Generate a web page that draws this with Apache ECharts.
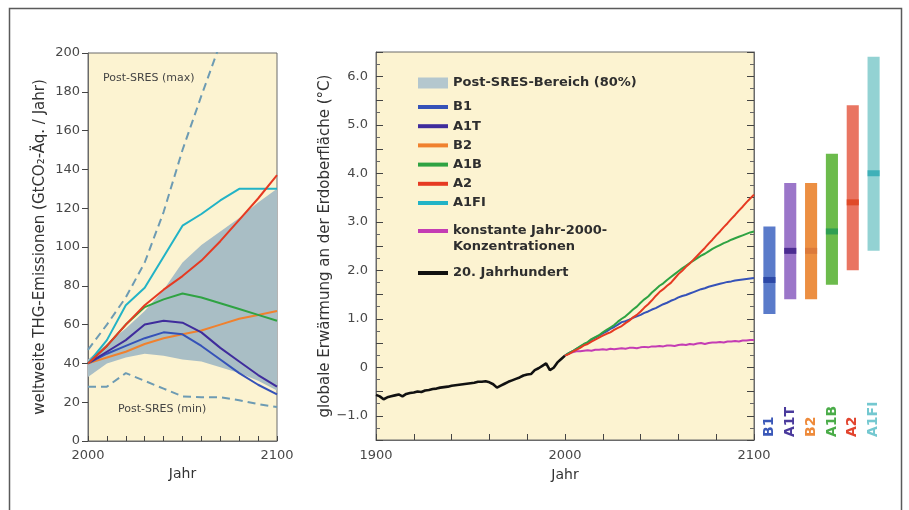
<!DOCTYPE html>
<html><head><meta charset="utf-8">
<script src="https://cdn.jsdelivr.net/npm/echarts@6/dist/echarts.min.js"></script>
<style>html,body{margin:0;padding:0;background:#fff}#c{width:909px;height:510px}</style>
</head><body><div id="c"></div>
<script>
// ---------- Left panel: emissions (GtCO2-eq / year) ----------
const emYears   = [2000, 2010, 2020, 2030, 2040, 2050, 2060, 2070, 2080, 2090, 2100];
const emB1      = [40, 45, 49, 53, 56, 55, 49, 42, 35, 29, 24];
const emA1T     = [40, 46, 52, 60, 62, 61, 56, 48, 41, 34, 28];
const emB2      = [40, 43, 46, 50, 53, 55, 57, 60, 63, 65, 67];
const emA1B     = [40, 49, 60, 69, 73, 76, 74, 71, 68, 65, 62];
const emA2      = [40, 49, 60, 70, 78, 85, 93, 103, 114, 125, 137];
const emA1FI    = [40, 52, 70, 79, 95, 111, 117, 124, 130, 130, 130];
const emMaxYears = [2000, 2010, 2020, 2030, 2040, 2050, 2060, 2070];
const emMax     = [47, 60, 74, 92, 118, 150, 178, 205];
const emMin     = [28, 28, 35, 31, 27, 23, 22.5, 22.5, 21, 19, 17.5];
const bandLow   = [33, 40, 43, 45, 44, 42, 41, 38, 35, 31, 26];
const bandHigh  = [42, 50, 58, 67, 78, 92, 101, 108, 115, 123, 130];

// ---------- Middle panel: warming (°C) ----------
const histYears = [1900,1902,1904,1906,1908,1910,1912,1914,1916,1918,1920,1922,1924,1926,1928,1930,1932,1934,1936,1938,1940,1942,1944,1946,1948,1950,1952,1954,1956,1958,1960,1962,1964,1966,1968,1970,1972,1974,1976,1978,1980,1982,1984,1986,1988,1990,1992,1994,1996,1998,2000];
const hist20    = [-0.57,-0.60,-0.66,-0.62,-0.60,-0.58,-0.56,-0.60,-0.55,-0.53,-0.52,-0.50,-0.51,-0.48,-0.47,-0.45,-0.44,-0.42,-0.41,-0.40,-0.38,-0.37,-0.36,-0.35,-0.34,-0.33,-0.32,-0.30,-0.30,-0.29,-0.31,-0.35,-0.42,-0.38,-0.34,-0.30,-0.27,-0.24,-0.21,-0.17,-0.15,-0.14,-0.06,-0.02,0.03,0.08,-0.06,-0.01,0.10,0.17,0.24];
const scenYears = [2000,2002,2004,2006,2008,2010,2012,2014,2016,2018,2020,2022,2024,2026,2028,2030,2032,2034,2036,2038,2040,2042,2044,2046,2048,2050,2052,2054,2056,2058,2060,2062,2064,2066,2068,2070,2072,2074,2076,2078,2080,2082,2084,2086,2088,2090,2092,2094,2096,2098,2100];
const tB1   = [0.24,0.29,0.33,0.38,0.42,0.47,0.51,0.57,0.61,0.65,0.70,0.74,0.79,0.83,0.88,0.93,0.95,0.98,1.02,1.05,1.08,1.12,1.15,1.19,1.22,1.26,1.30,1.33,1.37,1.40,1.44,1.47,1.49,1.52,1.55,1.58,1.61,1.63,1.66,1.68,1.70,1.72,1.74,1.76,1.77,1.79,1.80,1.81,1.82,1.83,1.84];
const tA1B  = [0.24,0.29,0.33,0.38,0.43,0.48,0.52,0.58,0.62,0.66,0.72,0.77,0.82,0.87,0.94,1.00,1.05,1.12,1.19,1.25,1.33,1.40,1.46,1.54,1.61,1.68,1.73,1.80,1.86,1.92,1.98,2.04,2.09,2.15,2.20,2.25,2.30,2.34,2.39,2.44,2.48,2.52,2.56,2.59,2.63,2.66,2.69,2.72,2.75,2.78,2.80];
const tA2   = [0.24,0.27,0.32,0.36,0.40,0.45,0.48,0.53,0.57,0.61,0.65,0.69,0.72,0.77,0.81,0.85,0.91,0.96,1.03,1.08,1.15,1.23,1.30,1.38,1.47,1.55,1.61,1.68,1.74,1.83,1.92,1.99,2.07,2.14,2.22,2.30,2.38,2.46,2.55,2.63,2.72,2.80,2.89,2.97,3.06,3.14,3.23,3.31,3.40,3.48,3.56];
const tCommit = [0.24,0.28,0.31,0.33,0.33,0.34,0.35,0.34,0.36,0.36,0.37,0.36,0.38,0.37,0.38,0.39,0.38,0.40,0.40,0.39,0.41,0.42,0.41,0.43,0.43,0.44,0.43,0.45,0.45,0.44,0.46,0.47,0.46,0.48,0.47,0.49,0.50,0.48,0.50,0.51,0.51,0.52,0.51,0.53,0.53,0.54,0.53,0.55,0.55,0.56,0.56];

// ---------- Right: likely ranges ----------
const barScen = ['B1', 'A1T', 'B2', 'A1B', 'A2', 'A1FI'];
const barLow  = [1.1, 1.4, 1.4, 1.7, 2.0, 2.4];
const barHigh = [2.9, 3.8, 3.8, 4.4, 5.4, 6.4];
const barBest = [1.8, 2.4, 2.4, 2.8, 3.4, 4.0];

// ---------- styles ----------
const C = {B1:'#3552b8', A1T:'#3f2c9c', B2:'#f0812e', A1B:'#2fa343', A2:'#e63a22', A1FI:'#22b3c6', commit:'#c43cb4', hist:'#111111', band:'#a9bec5', dash:'#6d9bb3'};
const barFill = ['#5a7bca','#9b76c9','#ec8f42','#6cbb4c','#e97562','#93d2d3'];
const barMid  = ['#2c48a6','#4a2b90','#dc7a3a','#2f9f52','#e04a28','#3fb0b8'];
const labCol  = ['#3a58b8','#4a3a9c','#ee8a3a','#4aac48','#e2442e','#74c8d0'];
const FONT = 'DejaVu Sans, Verdana, sans-serif';
const cream = '#fcf3d1';

const pair = (xs, ys) => ys.map((y, i) => [xs[i], y]);

const lineS = (name, xi, yi, xs, ys, color, extra) => Object.assign({
  type: 'line', name, xAxisIndex: xi, yAxisIndex: yi, data: pair(xs, ys),
  symbol: 'none', lineStyle: {color, width: 2}, itemStyle: {color}, z: 3
}, extra || {});

const chart = echarts.init(document.getElementById('c'));
const axText = {color: '#484848', fontSize: 13, fontFamily: FONT};
const nameText = {color: '#333', fontSize: 14, fontFamily: FONT};
const yNameText = {color: '#333', fontSize: 15, fontFamily: FONT};
const legText = {color: '#2e2e2e', fontSize: 13, fontFamily: FONT, fontWeight: 'bold', lineHeight: 16};

chart.setOption({
  animation: false,
  backgroundColor: '#fff',
  textStyle: {fontFamily: FONT},
  grid: [
    {left: 88, top: 53, width: 189, height: 388, show: true, backgroundColor: cream, borderColor: '#6a6a6a', borderWidth: 1},
    {left: 376, top: 52, width: 378, height: 388, show: true, backgroundColor: cream, borderColor: '#6a6a6a', borderWidth: 1},
    {left: 759, top: 52, width: 125, height: 388, show: false}
  ],
  xAxis: [
    {type: 'value', gridIndex: 0, min: 2000, max: 2100, interval: 10,
     axisLine: {onZero: false, lineStyle: {color: '#6a6a6a'}}, splitLine: {show: false},
     axisTick: {inside: true, length: 5, lineStyle: {color: '#444'}},
     axisLabel: Object.assign({margin: 8, formatter: v => (v === 2000 || v === 2100) ? String(v) : ''}, axText),
     name: 'Jahr', nameLocation: 'middle', nameGap: 26, nameTextStyle: nameText},
    {type: 'value', gridIndex: 1, min: 1900, max: 2100, interval: 20,
     axisLine: {onZero: false, lineStyle: {color: '#6a6a6a'}}, splitLine: {show: false},
     axisTick: {inside: true, length: 6, lineStyle: {color: '#444'}},
     axisLabel: Object.assign({margin: 9, formatter: v => (v % 100 === 0) ? String(v) : ''}, axText),
     name: 'Jahr', nameLocation: 'middle', nameGap: 28, nameTextStyle: nameText},
    {type: 'category', gridIndex: 2, data: barScen,
     axisLine: {show: false}, axisTick: {show: false},
     axisLabel: {inside: true, rotate: 90, margin: 3, fontSize: 14, fontFamily: FONT, fontWeight: 'bold',
       formatter: (v, i) => '{c' + i + '|' + v + '}',
       rich: Object.fromEntries(labCol.map((c, i) => ['c' + i, {color: c, fontSize: 14, fontFamily: FONT, fontWeight: 'bold'}]))}}
  ],
  yAxis: [
    {type: 'value', gridIndex: 0, min: 0, max: 200, interval: 20,
     axisLine: {show: true, lineStyle: {color: '#6a6a6a'}}, splitLine: {show: false},
     axisTick: {show: true, length: 6, lineStyle: {color: '#444'}},
     axisLabel: Object.assign({margin: 8}, axText),
     name: 'weltweite THG-Emissionen (GtCO\u2082-Äq. / Jahr)', nameLocation: 'middle', nameGap: 40, nameTextStyle: yNameText},
    {type: 'value', gridIndex: 1, min: -1.5, max: 6.5, interval: 0.5,
     axisLine: {show: true, lineStyle: {color: '#6a6a6a'}}, splitLine: {show: false},
     axisTick: {show: true, inside: true, length: 7, lineStyle: {color: '#444'}},
     minorTick: {show: true, splitNumber: 2, length: 4, lineStyle: {color: '#666'}},
     axisLabel: Object.assign({margin: 8, formatter: v => (Math.abs(v % 1) > 1e-9) ? '' : (v === 0 ? '0' : (v < 0 ? '\u2212' + Math.abs(v).toFixed(1) : v.toFixed(1)))}, axText),
     name: 'globale Erwärmung an der Erdoberfläche (°C)', nameLocation: 'middle', nameGap: 43, nameTextStyle: yNameText},
    {type: 'value', gridIndex: 1, position: 'right', min: -1.5, max: 6.5, interval: 0.5,
     axisLine: {show: true, lineStyle: {color: '#6a6a6a'}}, splitLine: {show: false},
     axisTick: {show: true, inside: true, length: 7, lineStyle: {color: '#444'}},
     minorTick: {show: true, splitNumber: 2, length: 4, lineStyle: {color: '#666'}},
     axisLabel: {show: false}},
    {type: 'value', gridIndex: 2, min: -1.5, max: 6.5, show: false}
  ],
  legend: [
    {selectedMode: false, orient: 'vertical', left: 418, top: 75, padding: 0, icon: 'rect', itemWidth: 30, itemHeight: 11,
     textStyle: legText,
     data: [{name: 'Post-SRES-Bereich (80%)', itemStyle: {color: '#b4c7ce'}}]},
    {selectedMode: false, orient: 'vertical', left: 418, top: 99, padding: 0, icon: 'rect', itemWidth: 30, itemHeight: 4, itemGap: 3.2,
     textStyle: legText,
     data: ['B1', 'A1T', 'B2', 'A1B', 'A2', 'A1FI']},
    {selectedMode: false, orient: 'vertical', left: 418, top: 223, padding: 0, icon: 'rect', itemWidth: 30, itemHeight: 4,
     textStyle: legText,
     formatter: () => 'konstante Jahr-2000-',
     data: ['konstante Jahr-2000-Konzentrationen']},
    {selectedMode: false, orient: 'vertical', left: 418, top: 265, padding: 0, icon: 'rect', itemWidth: 30, itemHeight: 4,
     textStyle: legText,
     data: ['20. Jahrhundert']}
  ],
  graphic: [
    {type: 'rect', shape: {x: 9.5, y: 8.5, width: 892, height: 520}, style: {fill: 'none', stroke: '#5a5a5a', lineWidth: 1.5}, z: 100},
    {type: 'text', left: 453, top: 240, style: {text: 'Konzentrationen', fill: '#2e2e2e', font: 'bold 13px ' + FONT}},
    {type: 'text', left: 103, top: 73, style: {text: 'Post-SRES (max)', fill: '#444', font: '11px ' + FONT}, z: 50},
    {type: 'text', left: 118, top: 404, style: {text: 'Post-SRES (min)', fill: '#444', font: '11px ' + FONT}, z: 50}
  ],
  series: [
    {type: 'custom', name: 'Post-SRES-Bereich (80%)', xAxisIndex: 0, yAxisIndex: 0, silent: true, z: 1,
     itemStyle: {color: C.band},
     data: [[emYears[0], bandLow[0]]],
     renderItem: (params, api) => {
       const up = emYears.map((y, i) => api.coord([y, bandHigh[i]]));
       const lo = emYears.map((y, i) => api.coord([y, bandLow[i]])).reverse();
       return {type: 'polygon', shape: {points: up.concat(lo)}, style: {fill: C.band}};
     }},
    lineS('_max', 0, 0, emMaxYears, emMax, C.dash, {lineStyle: {color: C.dash, width: 2, type: [8, 5]}, z: 4}),
    lineS('_min', 0, 0, emYears, emMin, C.dash, {lineStyle: {color: C.dash, width: 2, type: [8, 5]}, z: 4}),
    lineS('B2', 0, 0, emYears, emB2, C.B2),
    lineS('B1', 0, 0, emYears, emB1, C.B1),
    lineS('A1T', 0, 0, emYears, emA1T, C.A1T),
    lineS('A1B', 0, 0, emYears, emA1B, C.A1B),
    lineS('A1FI', 0, 0, emYears, emA1FI, C.A1FI),
    lineS('A2', 0, 0, emYears, emA2, C.A2),
    lineS('20. Jahrhundert', 1, 1, histYears, hist20, C.hist, {lineStyle: {color: C.hist, width: 2.6}}),
    lineS('konstante Jahr-2000-Konzentrationen', 1, 1, scenYears, tCommit, C.commit),
    lineS('B1', 1, 1, scenYears, tB1, C.B1),
    lineS('A1B', 1, 1, scenYears, tA1B, C.A1B),
    lineS('A2', 1, 1, scenYears, tA2, C.A2),
    {type: 'custom', name: '_ranges', xAxisIndex: 2, yAxisIndex: 3,
     data: barScen.map((s, i) => [i, barLow[i], barHigh[i], barBest[i]]),
     encode: {x: 0, y: [1, 2, 3]},
     renderItem: (params, api) => {
       const i = api.value(0);
       const top = api.coord([i, api.value(2)]);
       const bot = api.coord([i, api.value(1)]);
       const mid = api.coord([i, api.value(3)]);
       const w = api.size([1, 0])[0] * 0.58;
       return {type: 'group', children: [
         {type: 'rect', shape: {x: top[0] - w / 2, y: top[1], width: w, height: bot[1] - top[1]}, style: {fill: barFill[i]}},
         {type: 'rect', shape: {x: mid[0] - w / 2, y: mid[1] - 3, width: w, height: 6}, style: {fill: barMid[i]}}
       ]};
     }}
  ]
});
</script></body></html>
